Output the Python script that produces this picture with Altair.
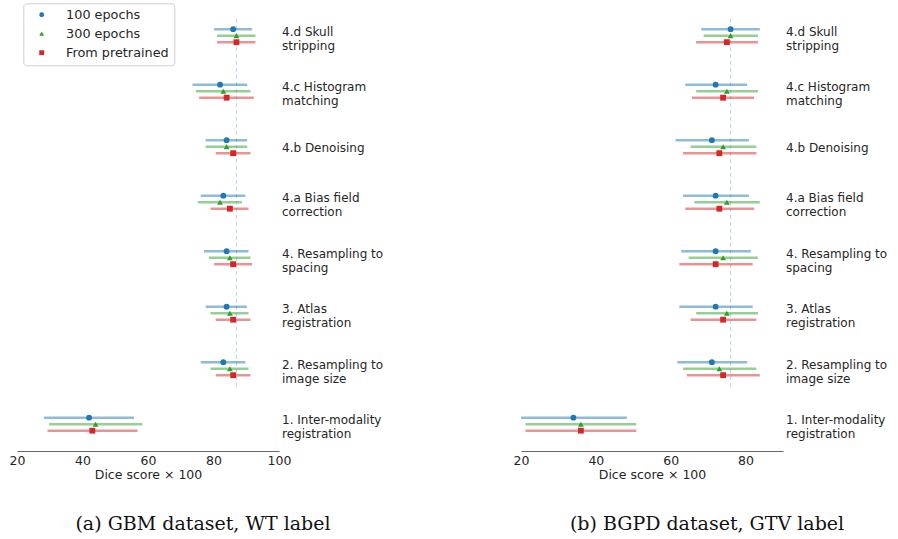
import altair as alt
import pandas as pd

# ---------------- data ----------------
steps = [
    "1. Inter-modality\nregistration",
    "2. Resampling to\nimage size",
    "3. Atlas\nregistration",
    "4. Resampling to\nspacing",
    "4.a Bias field\ncorrection",
    "4.b Denoising",
    "4.c Histogram\n\u00a0matching",
    "4.d Skull\nstripping",
]
series = ["100 epochs", "300 epochs", "From pretrained"]

# GBM dataset, WT label
gbm_100_mean = [42, 83, 84, 84, 83, 84, 82, 86]
gbm_100_lo = [28.2, 76.1, 77.6, 77.1, 76.1, 77.6, 73.6, 80.2]
gbm_100_hi = [55.7, 89.7, 90.2, 90.7, 89.7, 90.3, 90.3, 91.8]
gbm_300_mean = [44, 85, 85, 85, 82, 84, 83, 87]
gbm_300_lo = [29.8, 79.1, 79.1, 78.6, 75.2, 77.6, 74.6, 81.1]
gbm_300_hi = [58.3, 90.7, 90.7, 91.3, 88.7, 90.3, 91.3, 92.8]
gbm_pre_mean = [43, 86, 86, 86, 85, 86, 84, 87]
gbm_pre_lo = [29.3, 80.7, 80.7, 80.2, 79.1, 80.7, 75.6, 81.1]
gbm_pre_hi = [56.8, 91.3, 91.3, 91.8, 90.7, 91.3, 92.3, 92.8]

# BGPD dataset, GTV label
bgpd_100_mean = [34, 71, 72, 72, 72, 71, 72, 76]
bgpd_100_lo = [20.0, 61.8, 62.3, 62.8, 63.3, 61.3, 63.9, 68.2]
bgpd_100_hi = [48.3, 80.4, 81.9, 81.4, 80.9, 80.9, 80.4, 83.8]
bgpd_300_mean = [36, 73, 75, 74, 75, 74, 75, 76]
bgpd_300_lo = [21.2, 63.3, 66.8, 64.8, 66.3, 65.3, 66.8, 68.8]
bgpd_300_hi = [50.8, 82.9, 83.3, 83.3, 83.8, 82.9, 83.3, 83.3]
bgpd_pre_mean = [36, 74, 74, 72, 73, 73, 74, 75]
bgpd_pre_lo = [21.2, 64.3, 65.3, 62.3, 63.9, 63.3, 65.7, 66.8]
bgpd_pre_hi = [50.8, 83.8, 82.9, 81.9, 82.3, 82.9, 82.3, 83.3]

gbm_ref = 87
bgpd_ref = 76
gbm_ticks = [20, 40, 60, 80, 100]
bgpd_ticks = [20, 40, 60, 80]
captions = ["(a) GBM dataset, WT label", "(b) BGPD dataset, GTV label"]

# ---------------- styling ----------------
colors = ["#1f77b4", "#2ca02c", "#d62728"]
shapes = ["circle", "triangle-up", "square"]
offsets = [0.117, 0.0, -0.117]
Y_DOMAIN = [-0.483, 7.607]
REF_SPAN = [0.67, 7.30]
FONT = "DejaVu Sans"


def build(groups):
    rows = []
    for s, (m, lo, hi), off in zip(series, groups, offsets):
        for i, step in enumerate(steps):
            rows.append(dict(step=step, idx=i, series=s, mean=m[i], lo=lo[i],
                             hi=hi[i], ypos=i + off))
    return pd.DataFrame(rows)


def panel(df, xmax, ticks, ref, caption, show_legend):
    xs = alt.Scale(domain=[20, xmax], nice=False, zero=False)
    ys = alt.Scale(domain=Y_DOMAIN, nice=False, zero=False)
    xaxis = alt.Axis(values=ticks, title="Dice score × 100")
    cs = alt.Scale(domain=series, range=colors)
    ss = alt.Scale(domain=series, range=shapes)

    if show_legend:
        leg = alt.Legend(
            title=None, orient="none", legendX=6.3, legendY=1.3,
            fillColor="white", strokeColor="#d0d0d0", cornerRadius=3,
            padding=5, symbolOffset=7, labelOffset=18, symbolSize=24,
            labelFontSize=12.8, labelFont=FONT, labelColor="#262626",
            rowPadding=5, symbolStrokeWidth=0, symbolOpacity=1,
        )
        col = alt.Color("series:N", scale=cs, legend=leg)
        shp = alt.Shape("series:N", scale=ss, legend=leg)
    else:
        col = alt.Color("series:N", scale=cs, legend=None)
        shp = alt.Shape("series:N", scale=ss, legend=None)

    ref_df = pd.DataFrame({"x": [ref], "y1": [REF_SPAN[0]], "y2": [REF_SPAN[1]]})
    refrule = alt.Chart(ref_df).mark_rule(
        strokeDash=[4, 3], strokeWidth=1, color="#1f77b4", opacity=0.3
    ).encode(
        x=alt.X("x:Q", scale=xs, axis=xaxis),
        y=alt.Y("y1:Q", scale=ys, axis=None),
        y2="y2:Q",
    )

    bars = alt.Chart(df).mark_rule(strokeWidth=2.5, opacity=0.5).encode(
        x=alt.X("lo:Q", scale=xs, axis=xaxis),
        x2="hi:Q",
        y=alt.Y("ypos:Q", scale=ys, axis=None),
        color=col,
    )

    pts = alt.Chart(df).mark_point(filled=True, opacity=1, size=34).encode(
        x=alt.X("mean:Q", scale=xs, axis=xaxis),
        y=alt.Y("ypos:Q", scale=ys, axis=None),
        color=col,
        shape=shp,
    )

    lab_df = pd.DataFrame({"step": steps, "idx": list(range(len(steps))),
                           "lx": [xmax] * len(steps)})
    text_kw = dict(align="left", baseline="middle", dx=3, lineBreak="\n",
                   lineHeight=14, fontSize=12, font=FONT, color="#262626")
    enc = dict(
        x=alt.X("lx:Q", scale=xs, axis=xaxis),
        y=alt.Y("idx:Q", scale=ys, axis=None),
        text="step:N",
    )
    labels2 = alt.Chart(lab_df).transform_filter(
        "indexof(datum.step, '\\n') >= 0"
    ).mark_text(dy=-4, **text_kw).encode(**enc)
    labels1 = alt.Chart(lab_df).transform_filter(
        "indexof(datum.step, '\\n') < 0"
    ).mark_text(dy=1.5, **text_kw).encode(**enc)

    return alt.layer(refrule, bars, pts, labels2, labels1).properties(
        width=262, height=449,
        title=alt.TitleParams(
            caption, orient="bottom", anchor="middle", frame="group", dx=55,
            offset=34, font="DejaVu Serif", fontSize=19, fontWeight="normal",
            color="#111111",
        ),
    )


gbm = build([(gbm_100_mean, gbm_100_lo, gbm_100_hi),
             (gbm_300_mean, gbm_300_lo, gbm_300_hi),
             (gbm_pre_mean, gbm_pre_lo, gbm_pre_hi)])
bgpd = build([(bgpd_100_mean, bgpd_100_lo, bgpd_100_hi),
              (bgpd_300_mean, bgpd_300_lo, bgpd_300_hi),
              (bgpd_pre_mean, bgpd_pre_lo, bgpd_pre_hi)])

left = panel(gbm, 100, gbm_ticks, gbm_ref, captions[0], True)
right = panel(bgpd, 90, bgpd_ticks, bgpd_ref, captions[1], False)

chart = alt.hconcat(left, right, spacing=242, bounds="flush").resolve_scale(
    color="independent", shape="independent"
).properties(
    padding={"left": 9, "top": 2, "right": 5, "bottom": 5},
    background="white",
).configure_view(stroke=None).configure_axis(
    domainColor="#666666", domainWidth=1, ticks=False, grid=False,
    labelFontSize=12.5, labelFont=FONT, labelColor="#262626", labelFlush=False,
    labelPadding=3, titleFontSize=12.5, titleFont=FONT, titleFontWeight="normal",
    titleColor="#262626", titlePadding=2,
)

chart.save("out.html", embed_options={"renderer": "svg", "actions": False})
